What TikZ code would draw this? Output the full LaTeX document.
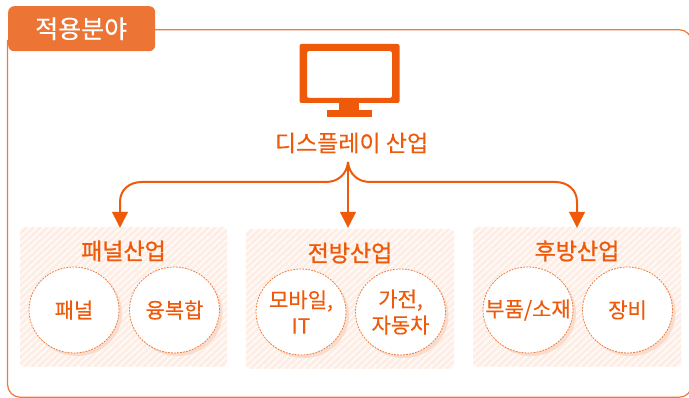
\documentclass[tikz,border=0pt]{standalone}
\usepackage{fontspec}
\usetikzlibrary{arrows.meta,shapes.geometric}
\newfontfamily\kr[FakeBold=0.25]{Noto Sans CJK KR}
\newfontfamily\krb[FakeBold=1.0]{Noto Sans CJK KR}
\definecolor{org}{HTML}{EE5A0A}
\definecolor{frm}{HTML}{EE7A3C}
\definecolor{tagc}{HTML}{EC7535}
\definecolor{hat}{HTML}{FDEDE4}
\definecolor{hatb}{HTML}{FFFAF7}
\definecolor{shad}{HTML}{F9DCCB}
\newcommand{\ztext}[1]{\makebox[0pt][c]{#1}}
\tikzset{
 panel/.style={fill=hatb,rounded corners=4pt},
 circ/.style={ellipse,minimum width=90pt,minimum height=86pt,inner sep=0pt,draw=frm,dash pattern=on 1.8pt off 1.2pt,line width=0.8pt,fill=white,text=org,font=\kr\fontsize{21}{26}\selectfont,align=center},
 shd/.style={ellipse,minimum width=90pt,minimum height=86pt,inner sep=0pt,fill=shad},
 ptitle/.style={text=org,font=\krb\fontsize{23}{27}\selectfont,inner sep=0pt},
 arr/.style={draw=org,line width=2pt,-{Triangle[width=15.5pt,length=16pt]}}
}
\newcommand{\panelbox}[4]{%
 \fill[panel] (#1,#2) rectangle (#3,#4);
 \begin{scope}
 \clip[rounded corners=4pt] (#1,#2) rectangle (#3,#4);
 \foreach \k in {0,7,...,420}{
   \draw[hat,line width=2.6pt] ({#1+\k-150},#4) -- ({#1+\k},#2);
 }
 \end{scope}
}
\begin{document}
\begin{tikzpicture}[x=1pt,y=-1pt]
\useasboundingbox (0,0) rectangle (689,398);
\fill[white] (0,0) rectangle (689,398);
\draw[frm,line width=1.2pt,rounded corners=13pt] (150,29.7) -- (692,29.7) -- (692,397.3) -- (7.5,397.3) -- (7.5,40);
\node[fill=tagc,rounded corners=6pt,minimum width=147pt,minimum height=45pt,inner sep=0pt,anchor=north west,text=white,font=\kr\fontsize{25}{30}\selectfont] (tag) at (8,6) {\hspace{-1pt}적용분야};
% monitor
\fill[org,even odd rule,rounded corners=2pt] (299.5,44) rectangle (399.5,103) (307,51) rectangle (392,98);
\fill[org] (339,102) rectangle (359,111);
\fill[org] (327,110) rectangle (372,117);
\node[text=org,font=\kr\fontsize{23}{28}\selectfont,inner sep=0pt] (main) at (351.5,143) {디스플레이 산업};
\coordinate (hub) at (348,162);
% panels
\panelbox{20}{227}{227}{367}
\panelbox{246}{229}{454}{369}
\panelbox{473}{227}{681}{367}
\node[ptitle] (p1) at (123.5,251) {패널산업};
\node[ptitle] (p2) at (350,253) {전방산업};
\node[ptitle] (p3) at (577,251) {후방산업};
\coordinate (a1) at (120,228);
\coordinate (a2) at (348,228);
\coordinate (a3) at (577,228);
\draw[arr] (hub) -- (a2);
\draw[arr] (hub) .. controls (347,174) and (338,182) .. (326,182) -- (142,182) .. controls (129,182) and (120,190) .. (120,202) -- (a1);
\draw[arr] (hub) .. controls (349,174) and (358,182) .. (370,182) -- (555,182) .. controls (568,182) and (577,190) .. (577,202) -- (a3);
% circles
\foreach \x/\y in {74/310,174.5/310,301/312,400.5/312,528/310,627.5/310}{
 \node[shd] at (\x+3,\y+3) {};
}
\node[circ] (c1) at (74,310) {\ztext{패널}};
\node[circ] (c2) at (174.5,310) {\ztext{융복합}};
\node[circ] (c3) at (301,312) {\ztext{모바일,}\\\ztext{IT}};
\node[circ] (c4) at (400.5,312) {\ztext{가전,}\\\ztext{자동차}};
\node[circ] (c5) at (528,310) {\ztext{부품/소재}};
\node[circ] (c6) at (627.5,310) {\ztext{장비}};
\end{tikzpicture}
\end{document}
